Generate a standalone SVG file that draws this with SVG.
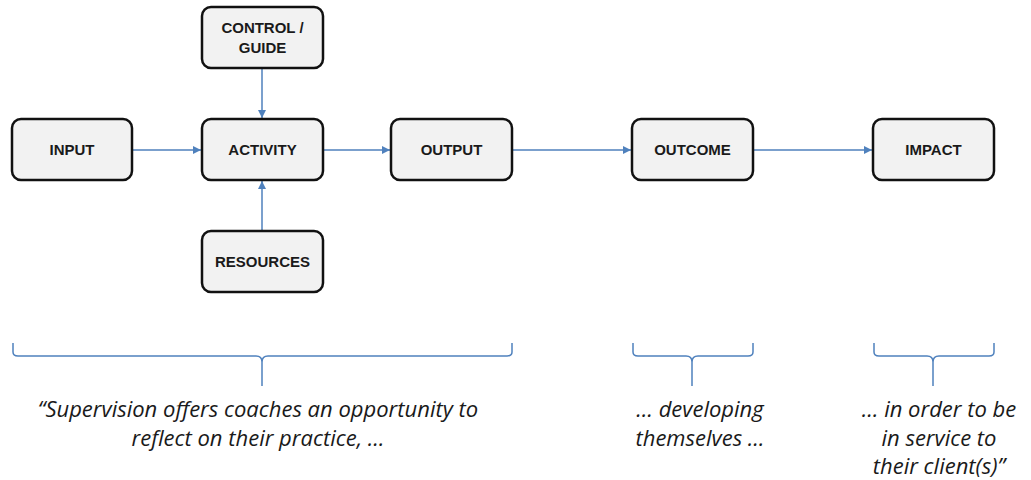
<svg xmlns="http://www.w3.org/2000/svg" width="1031" height="480" viewBox="0 0 1031 480">
<style>
.box{fill:#f2f2f2;stroke:#111;stroke-width:2.5}
.lbl{font-family:"Liberation Sans",Arial,sans-serif;font-weight:bold;font-size:15px;fill:#1a1a1a;text-anchor:middle}
.con{stroke:#4f81bd;stroke-width:1.5;fill:none}
.brace{stroke:#4f81bd;stroke-width:1.5;fill:none}
.q{font-family:"Open Sans","Liberation Sans",sans-serif;font-style:italic;font-size:22px;fill:#1a1a1a;text-anchor:middle}
</style>
<defs>
<marker id="ah" viewBox="0 0 10 10" refX="10" refY="5" markerWidth="8" markerHeight="8" markerUnits="userSpaceOnUse" orient="auto">
<path d="M0,0 L10,5 L0,10 z" fill="#4f81bd"/>
</marker>
</defs>
<g id="connectors">
<line class="con" x1="133" y1="150" x2="201" y2="150" marker-end="url(#ah)"/>
<line class="con" x1="262" y1="68" x2="262" y2="118" marker-end="url(#ah)"/>
<line class="con" x1="262" y1="231" x2="262" y2="181" marker-end="url(#ah)"/>
<line class="con" x1="323" y1="150" x2="390" y2="150" marker-end="url(#ah)"/>
<line class="con" x1="512" y1="150" x2="631" y2="150" marker-end="url(#ah)"/>
<line class="con" x1="753" y1="150" x2="872" y2="150" marker-end="url(#ah)"/>
</g>
<g id="input"><rect class="box" x="12" y="119" width="120" height="61" rx="9"/><text class="lbl" x="72" y="155">INPUT</text></g>
<g id="control"><rect class="box" x="202" y="7" width="121" height="61" rx="9"/><text class="lbl" x="262.5" y="33">CONTROL /</text><text class="lbl" x="262.5" y="53">GUIDE</text></g>
<g id="activity"><rect class="box" x="202" y="119" width="121" height="61" rx="9"/><text class="lbl" x="262.5" y="155">ACTIVITY</text></g>
<g id="resources"><rect class="box" x="202" y="231" width="121" height="61" rx="9"/><text class="lbl" x="262.5" y="267">RESOURCES</text></g>
<g id="output"><rect class="box" x="391" y="119" width="121" height="61" rx="9"/><text class="lbl" x="451.5" y="155">OUTPUT</text></g>
<g id="outcome"><rect class="box" x="632" y="119" width="121" height="61" rx="9"/><text class="lbl" x="692.5" y="155">OUTCOME</text></g>
<g id="impact"><rect class="box" x="873" y="119" width="121" height="61" rx="9"/><text class="lbl" x="933.5" y="155">IMPACT</text></g>
<g id="braces">
<path class="brace" d="M13,343 V352 Q13,356 18,356 H256 Q262,356 262,362 V386 M262,362 Q262,356 268,356 H507 Q512,356 512,352 V343"/>
<path class="brace" d="M633,343 V352 Q633,356 638,356 H686 Q692,356 692,362 V386 M692,362 Q692,356 698,356 H748 Q753,356 753,352 V343"/>
<path class="brace" d="M874,343 V352 Q874,356 879,356 H927 Q933,356 933,362 V386 M933,362 Q933,356 939,356 H989 Q994,356 994,352 V343"/>
</g>
<g id="quotes">
<text class="q" x="258" y="417">“Supervision offers coaches an opportunity to</text>
<text class="q" x="258" y="446">reflect on their practice, …</text>
<text class="q" x="700" y="417">… developing</text>
<text class="q" x="700" y="446">themselves …</text>
<text class="q" x="939" y="417">… in order to be</text>
<text class="q" x="939" y="446">in service to</text>
<text class="q" x="939" y="474">their client(s)”</text>
</g>
</svg>
